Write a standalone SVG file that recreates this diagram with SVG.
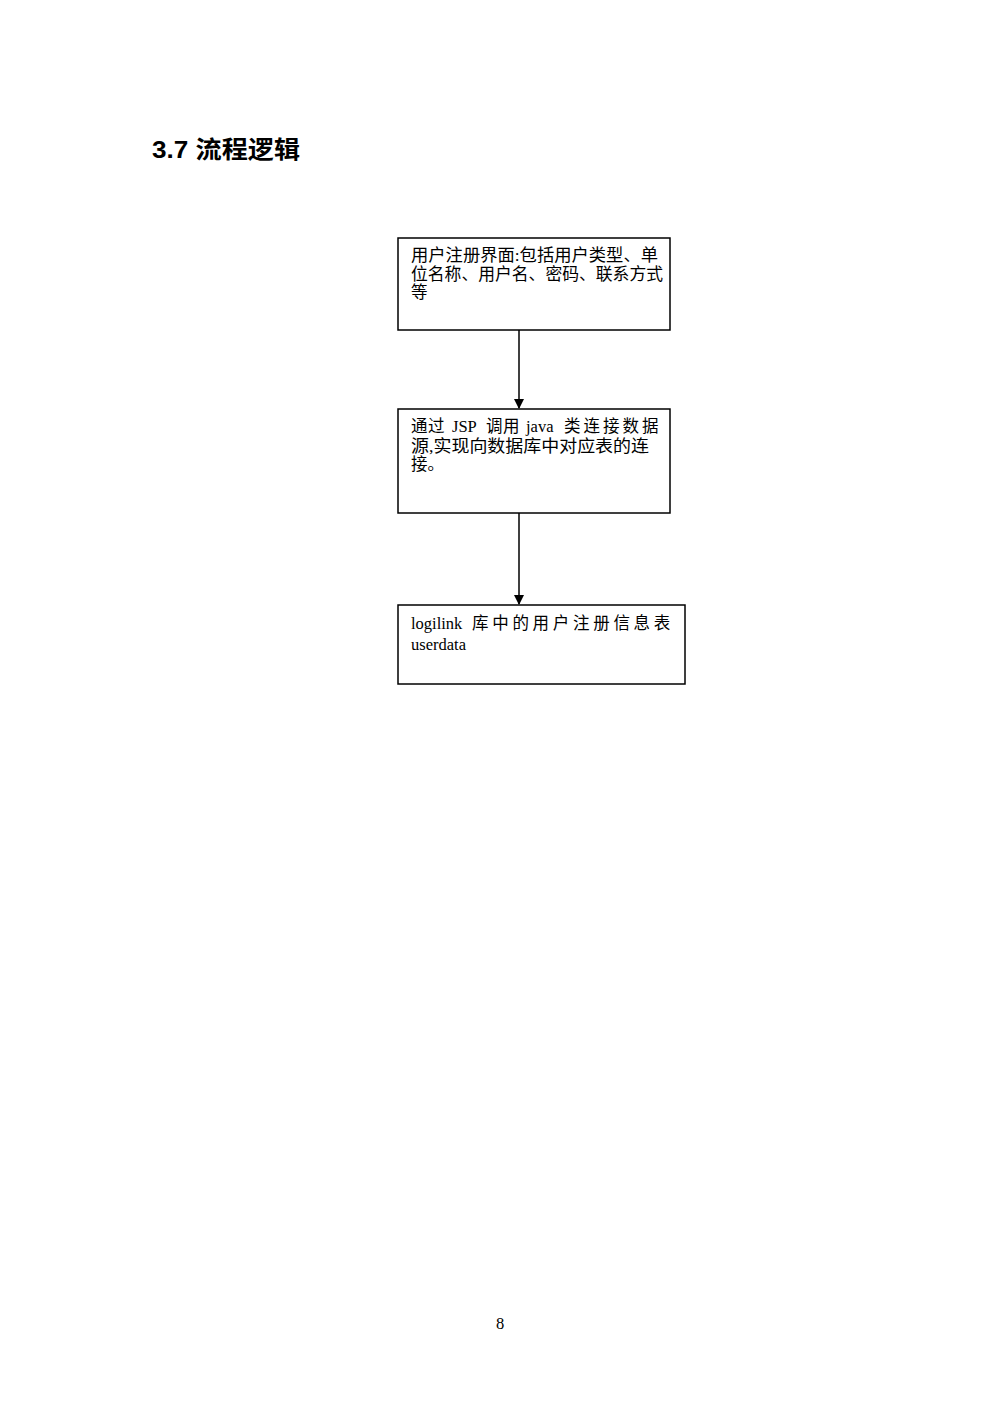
<svg xmlns="http://www.w3.org/2000/svg" width="1000" height="1415" viewBox="0 0 1000 1415">
<defs>
<style>
.box{fill:#fff;stroke:#000;stroke-width:1.5}
.t{font-family:"Liberation Serif","Noto Sans CJK SC",serif;font-size:16.5px;fill:#000}
.h{font-family:"Liberation Sans","Noto Sans CJK SC",sans-serif;font-size:24px;font-weight:bold;fill:#000}
.c{stroke:#000;stroke-width:1.5;fill:none}
</style>
<marker id="ah" markerWidth="10" markerHeight="10" refX="9" refY="5" orient="auto" markerUnits="userSpaceOnUse">
<path d="M0,0 L10,5 L0,10 Z" fill="#000"/>
</marker>
</defs>
<rect width="1000" height="1415" fill="#fff"/>
<text class="h" x="152" y="158" textLength="148" lengthAdjust="spacingAndGlyphs">3.7 流程逻辑</text>
<g id="n1">
<rect class="box" x="398" y="238" width="272" height="92"/>
<text class="t" x="411" y="261" textLength="247" lengthAdjust="spacingAndGlyphs">用户注册界面:包括用户类型、单</text>
<text class="t" x="411" y="280" textLength="252" lengthAdjust="spacingAndGlyphs">位名称、用户名、密码、联系方式</text>
<text class="t" x="411" y="298">等</text>
</g>
<g id="n2">
<rect class="box" x="398" y="409" width="272" height="104"/>
<text class="t" y="432"><tspan x="411 428">通过</tspan><tspan x="452">JSP</tspan><tspan x="486 503">调用</tspan><tspan x="526">java</tspan><tspan x="564 583.5 603 622.5 642">类连接数据</tspan></text>
<text class="t" x="411" y="452" textLength="238" lengthAdjust="spacingAndGlyphs">源,实现向数据库中对应表的连</text>
<text class="t" x="411" y="470">接。</text>
</g>
<g id="n3">
<rect class="box" x="398" y="605" width="287" height="79"/>
<text class="t" y="629"><tspan x="411">logilink</tspan><tspan x="472 492.2 512.4 532.6 552.8 573 593.2 613.4 633.6 653.8">库中的用户注册信息表</tspan></text>
<text class="t" x="411" y="650">userdata</text>
</g>
<g id="connectors">
<line class="c" x1="519" y1="330" x2="519" y2="408" marker-end="url(#ah)"/>
<line class="c" x1="519" y1="513" x2="519" y2="604" marker-end="url(#ah)"/>
</g>
<text class="t" x="500" y="1329" text-anchor="middle" font-size="14">8</text>
</svg>
